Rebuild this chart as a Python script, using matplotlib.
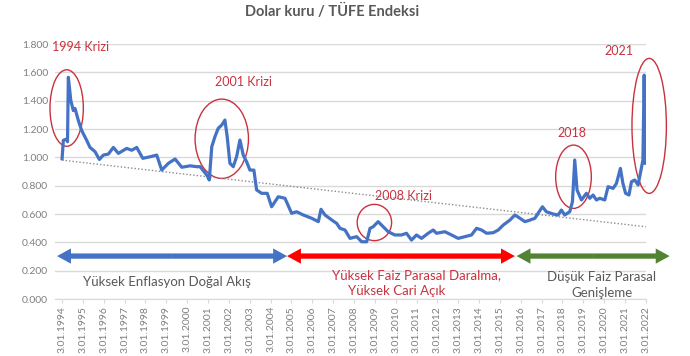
import numpy as np
import matplotlib
matplotlib.use("Agg")
import matplotlib.pyplot as plt
from matplotlib.patches import Ellipse, FancyArrowPatch

plt.rcParams['font.family'] = ['Lato', 'DejaVu Sans']

# Dolar kuru / TUFE orani (okunan degerler, ondalik yil)
years = [1994.00, 1994.06, 1994.23, 1994.26, 1994.30, 1994.42, 1994.54, 1994.62, 1994.78, 1994.94,
         1995.18, 1995.34, 1995.58, 1995.79, 1995.98, 1996.22, 1996.46, 1996.70, 1997.10, 1997.34,
         1997.58, 1997.87, 1998.22, 1998.54, 1998.78, 1999.10, 1999.42, 1999.74, 2000.14, 2000.46,
         2000.62, 2000.94, 2001.06, 2001.18, 2001.33, 2001.49, 2001.66, 2001.81, 2001.92, 2002.05,
         2002.21, 2002.37, 2002.53, 2002.69, 2002.85, 2003.01, 2003.20, 2003.33, 2003.57, 2003.84,
         2004.05, 2004.37, 2004.69, 2005.01, 2005.25, 2005.57, 2005.97, 2006.29, 2006.42, 2006.61,
         2007.01, 2007.17, 2007.33, 2007.57, 2007.81, 2008.13, 2008.37, 2008.61, 2008.77, 2008.92,
         2009.16, 2009.40, 2009.64, 2009.96, 2010.28, 2010.52, 2010.76, 2011.00, 2011.24, 2011.56,
         2011.80, 2011.96, 2012.36, 2012.68, 2013.00, 2013.32, 2013.64, 2013.88, 2014.12, 2014.36,
         2014.68, 2014.92, 2015.16, 2015.48, 2015.72, 2015.96, 2016.20, 2016.44, 2016.68, 2016.88,
         2017.04, 2017.23, 2017.55, 2017.79, 2017.95, 2018.11, 2018.35, 2018.48, 2018.59, 2018.70,
         2018.91, 2019.15, 2019.31, 2019.47, 2019.63, 2019.79, 2020.03, 2020.19, 2020.43, 2020.59,
         2020.78, 2020.90, 2021.03, 2021.19, 2021.31, 2021.47, 2021.63, 2021.81, 2021.86, 2021.92,
         2021.98]
ratio = [0.990, 1.120, 1.130, 1.110, 1.565, 1.400, 1.330, 1.345, 1.260, 1.190,
         1.120, 1.070, 1.040, 0.985, 1.016, 1.023, 1.070, 1.028, 1.063, 1.050,
         1.070, 0.993, 1.004, 1.016, 0.910, 0.958, 0.988, 0.930, 0.940, 0.934,
         0.934, 0.875, 0.840, 1.075, 1.145, 1.205, 1.228, 1.263, 1.145, 0.958,
         0.934, 1.004, 1.122, 1.016, 0.969, 0.910, 0.910, 0.770, 0.746, 0.746,
         0.651, 0.722, 0.711, 0.605, 0.616, 0.593, 0.570, 0.546, 0.633, 0.593,
         0.550, 0.534, 0.499, 0.487, 0.428, 0.440, 0.404, 0.404, 0.499, 0.510,
         0.546, 0.510, 0.475, 0.452, 0.452, 0.464, 0.416, 0.452, 0.428, 0.464,
         0.487, 0.464, 0.475, 0.452, 0.428, 0.440, 0.452, 0.499, 0.487, 0.464,
         0.468, 0.487, 0.522, 0.557, 0.593, 0.570, 0.546, 0.557, 0.570, 0.616,
         0.651, 0.616, 0.600, 0.593, 0.628, 0.593, 0.616, 0.687, 0.981, 0.769,
         0.699, 0.746, 0.711, 0.734, 0.699, 0.711, 0.699, 0.793, 0.781, 0.816,
         0.922, 0.816, 0.746, 0.734, 0.828, 0.840, 0.805, 0.946, 0.981, 1.580,
         0.958]

# dogrusal trend cizgisi uclari
trend_years = [1994.0, 2022.0]
trend_vals = [0.98, 0.51]

tick_years = list(range(1994, 2023))
tick_labels = ["3.01.%d" % y for y in tick_years]
y_ticks = [0.0, 0.2, 0.4, 0.6, 0.8, 1.0, 1.2, 1.4, 1.6, 1.8]

# kriz halkalari: (merkez yil, merkez deger, genislik, yukseklik)
crises = [(1994.22, 1.348, 1.6, 0.54),
          (2001.66, 1.131, 2.56, 0.56),
          (2008.98, 0.540, 1.65, 0.256),
          (2018.53, 0.863, 1.71, 0.447),
          (2022.16, 1.222, 1.65, 0.953)]
crisis_labels = [("1994 Krizi", 1993.52, 1.78, 'left'),
                 ("2001 Krizi", 2002.68, 1.53, 'center'),
                 ("2008 Krizi", 2010.36, 0.727, 'center'),
                 ("2018", 2018.45, 1.174, 'center'),
                 ("2021", 2020.69, 1.752, 'center')]

# donem oklari
periods = [(1993.76, 2004.79, '#4472c4'),
           (2004.79, 2015.72, '#ff0000'),
           (2015.80, 2023.14, '#548235')]

red = '#c8323f'
gray = '#595959'

fig = plt.figure(figsize=(6.9, 3.56), dpi=100)
ax = fig.add_axes([0.0797, 0.1601, 0.8563, 0.7163])

ax.set_xlim(1993.66, 2022.0)
ax.set_ylim(0, 1.8)
ax.set_yticks(y_ticks)
ax.set_yticklabels(["%.3f" % v for v in y_ticks])
ax.set_xticks(tick_years)
ax.set_xticklabels(tick_labels, rotation=90)
ax.grid(axis='y', color='#d9d9d9', lw=1)
ax.set_axisbelow(True)
for s in ['top', 'right', 'left']:
    ax.spines[s].set_visible(False)
ax.spines['bottom'].set_color('#d9d9d9')
ax.tick_params(axis='y', length=0, labelsize=7.5, labelcolor='#7f7f7f', pad=5)
ax.tick_params(axis='x', length=3, color='#d9d9d9', labelsize=7.5, labelcolor='#7f7f7f', pad=2)

ax.plot(trend_years, trend_vals, ls=(0, (1, 1.5)), color='#8c8c8c', lw=1)
ax.plot(years, ratio, color='#4472c4', lw=2.3, solid_joinstyle='round')

for cx, cy, w, h in crises:
    ax.add_patch(Ellipse((cx, cy), w, h, fill=False, ec=red, lw=1, clip_on=False))
for txt, x, y, ha in crisis_labels:
    ax.text(x, y, txt, color=red, fontsize=9, ha=ha, va='center')

style = "simple,head_length=1.0,head_width=1.1,tail_width=0.38"
for x0, x1, c in periods:
    mid = (x0 + x1) / 2
    for end in (x0, x1):
        ax.add_patch(FancyArrowPatch((mid, 0.303), (end, 0.303), arrowstyle=style,
                                     mutation_scale=10, color=c, lw=0,
                                     shrinkA=0, shrinkB=0, clip_on=False))

ax.text(1999.02, 0.122, "Yüksek Enflasyon Doğal Akış", color=gray, fontsize=9.5, ha='center', va='center')
ax.text(2011.0, 0.168, "Yüksek Faiz Parasal Daralma,", color=red, fontsize=9.5, ha='center', va='center')
ax.text(2010.06, 0.06, "Yüksek Cari Açık", color=red, fontsize=9.5, ha='center', va='center')
ax.text(2019.87, 0.158, "Düşük Faiz Parasal", color=gray, fontsize=9.5, ha='center', va='center')
ax.text(2019.88, 0.04, "Genişleme", color=gray, fontsize=9.5, ha='center', va='center')

fig.text(332 / 690, 1 - 11 / 356, "Dolar kuru / TÜFE Endeksi", fontsize=10.5, fontweight='bold',
         color=gray, ha='center', va='center')

fig.savefig("out.png", dpi=100)
